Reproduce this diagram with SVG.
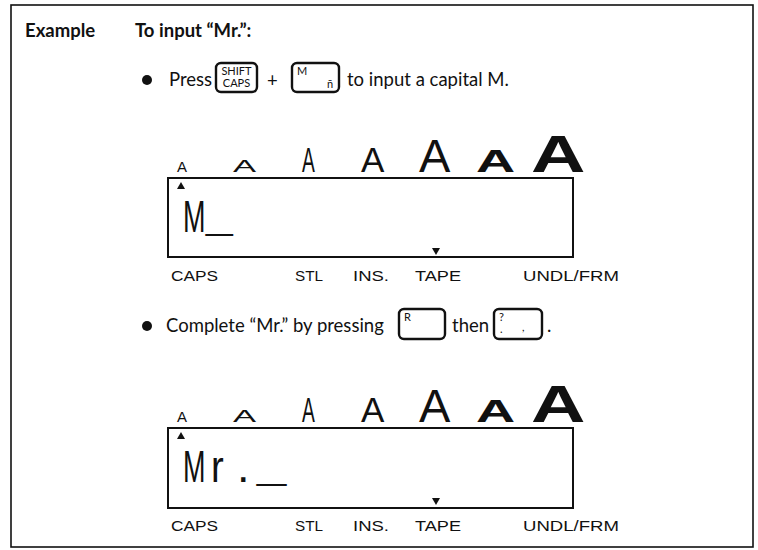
<svg xmlns="http://www.w3.org/2000/svg" width="758" height="550" viewBox="0 0 758 550">
<style>
.bg{fill:#fff}
.frame{fill:none;stroke:#111;stroke-width:1.6}
.body{font-family:Lato,"Open Sans","Liberation Sans",sans-serif;font-size:18.5px;fill:#111}
.b{font-weight:bold}
.key{fill:none;stroke:#111;stroke-width:2.4}
.kl{font-family:Lato,"Liberation Sans",sans-serif;font-size:11px;fill:#111}
.lcd{fill:none;stroke:#111;stroke-width:2}
.sz{font-family:"Liberation Sans",Arial,sans-serif;fill:#111}
.lbl{font-family:"Liberation Sans",Arial,sans-serif;font-size:15.5px;fill:#111}
.dt{font-family:"Liberation Sans",Arial,sans-serif;fill:#111}
.tri{fill:#111}
</style>
<rect class="bg" x="0" y="0" width="758" height="550"/>
<rect id="frame" class="frame" x="11" y="5" width="742" height="542"/>

<g id="header">
<text class="body b" x="25" y="37">Example</text>
<text class="body b" x="135" y="37">To input “Mr.”:</text>
</g>

<g id="step1">
<circle cx="147" cy="80" r="5" fill="#111"/>
<text class="body" x="169" y="86">Press</text>
<g id="key-shift">
<rect class="key" x="216" y="63" width="41" height="29" rx="5"/>
<text class="kl" x="236.5" y="75" text-anchor="middle">SHIFT</text>
<text class="kl" x="236.5" y="87" text-anchor="middle">CAPS</text>
</g>
<text class="body" x="267" y="87">+</text>
<g id="key-m">
<rect class="key" x="292" y="63" width="47" height="29" rx="5"/>
<text class="kl" x="297" y="75">M</text>
<text class="kl" x="327" y="88" font-size="9">ñ</text>
</g>
<text class="body" x="347" y="86">to input a capital M.</text>
</g>

<g id="display1">
<g id="sizes1">
<text class="sz" x="177" y="172" font-size="15">A</text>
<text class="sz" font-size="16.5" transform="translate(233,172) scale(2.1,1)">A</text>
<text class="sz" font-size="35" transform="translate(302,172) scale(0.55,1)">A</text>
<text class="sz" x="361" y="172" font-size="35">A</text>
<text class="sz" x="419" y="172" font-size="47">A</text>
<text class="sz" font-size="31" font-weight="bold" transform="translate(476,172) scale(1.75,1)">A</text>
<text class="sz" font-size="52" font-weight="bold" transform="translate(531,172) scale(1.45,1)">A</text>
</g>
<rect class="lcd" x="168" y="178" width="405" height="79"/>
<polygon class="tri" points="177,189 185,189 181,182"/>
<polygon class="tri" points="432,248 440,248 436,255"/>
<text class="dt" font-size="45" transform="translate(183,232) scale(0.6,1)">M</text>
<text class="dt" font-size="30" transform="translate(206,230) scale(1.6,1)">_</text>
<g id="labels1">
<text class="lbl" x="171" y="281" textLength="47" lengthAdjust="spacingAndGlyphs">CAPS</text>
<text class="lbl" x="295" y="281" textLength="28" lengthAdjust="spacingAndGlyphs">STL</text>
<text class="lbl" x="353" y="281" textLength="36" lengthAdjust="spacingAndGlyphs">INS.</text>
<text class="lbl" x="415" y="281" textLength="46" lengthAdjust="spacingAndGlyphs">TAPE</text>
<text class="lbl" x="523" y="281" textLength="96" lengthAdjust="spacingAndGlyphs">UNDL/FRM</text>
</g>
</g>

<g id="step2">
<circle cx="147" cy="326" r="5" fill="#111"/>
<text class="body" x="166" y="332">Complete “Mr.” by pressing</text>
<g id="key-r">
<rect class="key" x="399" y="309" width="46" height="30" rx="5"/>
<text class="kl" x="404" y="321">R</text>
</g>
<text class="body" x="452" y="332">then</text>
<g id="key-period">
<rect class="key" x="494" y="309" width="48" height="30" rx="5"/>
<text class="kl" x="499" y="321" font-size="11">?</text>
<text class="kl" x="500" y="333" font-size="13">.</text>
<text class="kl" x="522" y="331" font-size="12">,</text>
</g>
<text class="body" x="547" y="332">.</text>
</g>

<g id="display2">
<g id="sizes2">
<text class="sz" x="177" y="422" font-size="15">A</text>
<text class="sz" font-size="16.5" transform="translate(233,422) scale(2.1,1)">A</text>
<text class="sz" font-size="35" transform="translate(302,422) scale(0.55,1)">A</text>
<text class="sz" x="361" y="422" font-size="35">A</text>
<text class="sz" x="419" y="422" font-size="47">A</text>
<text class="sz" font-size="31" font-weight="bold" transform="translate(476,422) scale(1.75,1)">A</text>
<text class="sz" font-size="52" font-weight="bold" transform="translate(531,422) scale(1.45,1)">A</text>
</g>
<rect class="lcd" x="168" y="428" width="405" height="80"/>
<polygon class="tri" points="177,439 185,439 181,432"/>
<polygon class="tri" points="432,498 440,498 436,505"/>
<text class="dt" font-size="45" transform="translate(183,482) scale(0.6,1)">M</text>
<text class="dt" font-size="45" transform="translate(211,482) scale(0.85,1)">r</text>
<text class="dt" x="237" y="482" font-size="45">.</text>
<text class="dt" font-size="30" transform="translate(257,480) scale(1.75,1)">_</text>
<g id="labels2">
<text class="lbl" x="171" y="531" textLength="47" lengthAdjust="spacingAndGlyphs">CAPS</text>
<text class="lbl" x="295" y="531" textLength="28" lengthAdjust="spacingAndGlyphs">STL</text>
<text class="lbl" x="353" y="531" textLength="36" lengthAdjust="spacingAndGlyphs">INS.</text>
<text class="lbl" x="415" y="531" textLength="46" lengthAdjust="spacingAndGlyphs">TAPE</text>
<text class="lbl" x="523" y="531" textLength="96" lengthAdjust="spacingAndGlyphs">UNDL/FRM</text>
</g>
</g>
</svg>
